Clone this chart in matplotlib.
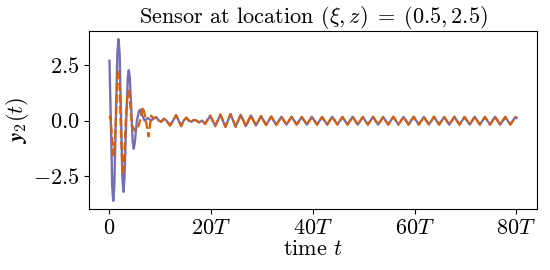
import numpy as np
import matplotlib
matplotlib.use("Agg")
import matplotlib.pyplot as plt

plt.rcParams["mathtext.fontset"] = "cm"
plt.rcParams["font.family"] = "serif"
plt.rcParams["font.serif"] = ["cmr10", "DejaVu Serif"]
plt.rcParams["font.size"] = 16

# transient part (time in units of T)
t_blue = [0.0, 0.35, 0.55, 0.75, 0.95, 1.25, 1.55, 1.77, 2.0, 2.3, 2.55, 2.76, 2.95,
          3.3, 3.6, 3.8, 4.0, 4.3, 4.55, 4.78, 5.0, 5.4, 5.8, 6.04, 6.3, 6.9, 7.55,
          8.2, 8.7]
y_blue = [2.68, -0.8, -3.0, -3.6, -3.0, 0.0, 3.0, 3.65, 3.0, 0.0, -2.6, -3.2, -2.6,
          0.0, 1.9, 2.26, 1.9, 0.5, -0.9, -1.26, -0.95, 0.0, 0.42, 0.49, 0.3, 0.0, 0.12,
          0.0, 0.1]

t_orange = [0.0, 0.2, 0.45, 0.79, 1.0, 1.3, 1.55, 1.72, 1.95, 2.25, 2.6, 2.85, 3.2,
            3.55, 3.75, 4.0, 4.4, 5.0, 5.6, 6.1, 6.55, 7.0, 7.7, 8.2, 8.7]
y_orange = [0.1, 0.2, -0.6, -1.56, -1.2, 0.3, 2.0, 2.3, 1.8, -0.5, -2.45, -2.0, 0.0,
            1.2, 1.34, 0.9, -0.2, -0.45, -0.37, 0.1, 0.62, 0.2, -0.71, 0.22, 0.1]

# early wiggles, shared by both series
t_mid = [9.2, 9.7, 10.2, 10.7, 11.2, 11.9, 12.5, 13.1, 13.6, 14.1, 14.6, 15.1, 15.6,
         16.1, 16.6, 17.1, 17.6, 18.2]
y_mid = [0.15, 0.0, -0.05, 0.08, 0.0, -0.22, 0.0, 0.24, 0.0, -0.25, 0.0, 0.13, 0.0,
         -0.05, 0.03, 0.0, -0.08, 0.0]

# steady oscillation: extrema every T from 18.8T on
t_tail = list(np.arange(18.8, 80.0, 1.0)) + [80.0]
y_tail = [-0.15, 0.22, -0.25, 0.27, -0.28, 0.29, -0.28, 0.26, -0.25, 0.23,
          -0.22, 0.2, -0.2, 0.18, -0.19,
          0.17, -0.18, 0.17, -0.18, 0.16, -0.18, 0.17, -0.18, 0.16, -0.18,
          0.17, -0.18, 0.16, -0.18, 0.17, -0.18, 0.16, -0.18, 0.17, -0.18,
          0.16, -0.18, 0.17, -0.18, 0.16, -0.18, 0.17, -0.18, 0.16, -0.18,
          0.17, -0.18, 0.16, -0.18, 0.17, -0.18, 0.16, -0.18, 0.17, -0.18,
          0.16, -0.18, 0.17, -0.18, 0.16, -0.18, 0.16, 0.12]

xticks = [0, 20, 40, 60, 80]
xticklabels = [r"$0$", r"$20T$", r"$40T$", r"$60T$", r"$80T$"]
yticks = [-2.5, 0.0, 2.5]
yticklabels = [r"$-2.5$", r"$0.0$", r"$2.5$"]

fig = plt.figure(figsize=(5.5, 2.7), dpi=100)
ax = fig.add_axes([0.162, 0.226, 0.814, 0.659])

ax.plot(t_blue + t_mid + t_tail, y_blue + y_mid + y_tail, color="#7570b3", lw=1.7)
ax.plot(t_orange + t_mid + t_tail, y_orange + y_mid + y_tail, color="#d95f02",
        lw=1.6, ls="--")

ax.set_xticks(xticks)
ax.set_xticklabels(xticklabels)
ax.set_yticks(yticks)
ax.set_yticklabels(yticklabels)
ax.set_title(r"Sensor at location $(\xi, z)\;=\;(0.5, 2.5)$", fontsize=16, pad=4)
ax.set_xlabel(r"time $t$", labelpad=1)
ax.set_ylabel(r"$\mathbfit{y}_2(t)$", labelpad=1)

fig.savefig("out.png")
